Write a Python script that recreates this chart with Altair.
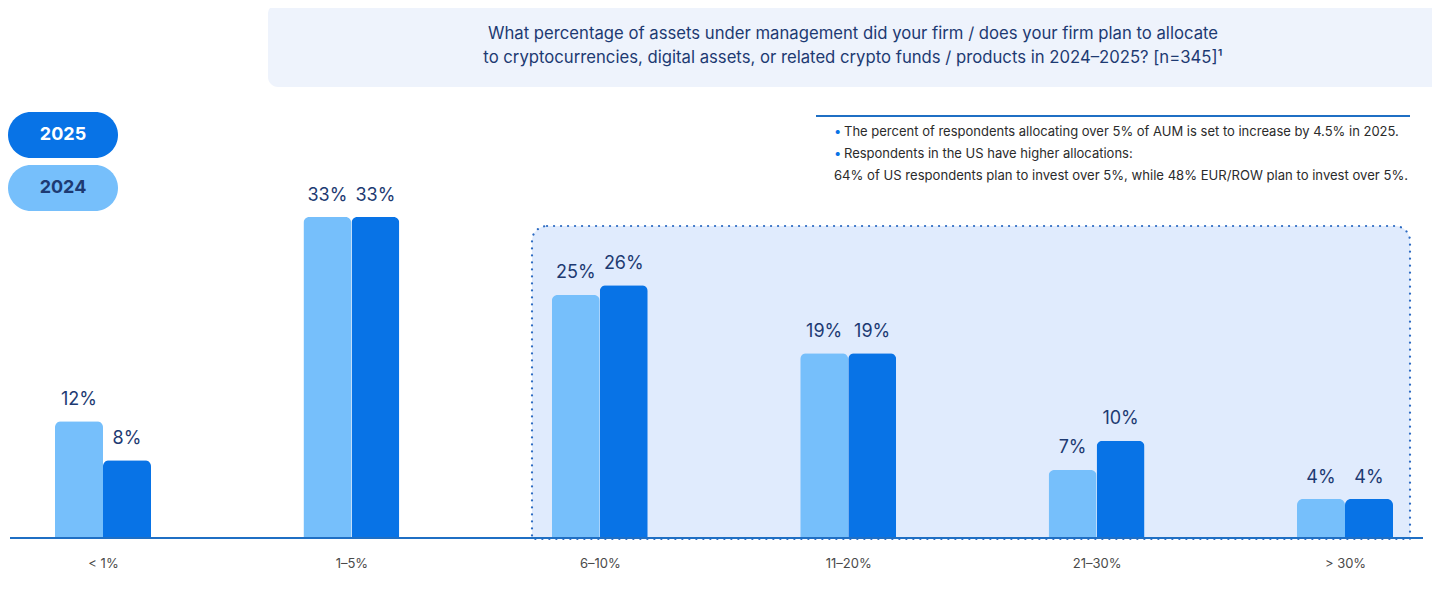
import altair as alt
import pandas as pd

# ---- data ----
categories = ["< 1%", "1–5%", "6–10%", "11–20%", "21–30%", "> 30%"]
values_2024 = [12, 33, 25, 19, 7, 4]
values_2025 = [8, 33, 26, 19, 10, 4]
legend_years = ["2025", "2024"]
title_lines = [
    "What percentage of assets under management did your firm / does your firm plan to allocate",
    "to cryptocurrencies, digital assets, or related crypto funds / products in 2024–2025? [n=345]¹",
]
note_bullets = [
    "The percent of respondents allocating over 5% of AUM is set to increase by 4.5% in 2025.",
    "Respondents in the US have higher allocations:",
]
note_extra = "64% of US respondents plan to invest over 5%, while 48% EUR/ROW plan to invest over 5%."

# ---- styling ----
W, H = 1424, 577
NAVY = "#1d3a72"
LIGHT = "#76bffb"
DARK = "#0873e6"
LINE = "#1f6fc4"
FONT = "Inter"

rows = []
for i, c in enumerate(categories):
    rows.append({"idx": i, "cat": c, "year": "2024", "value": values_2024[i]})
    rows.append({"idx": i, "cat": c, "year": "2025", "value": values_2025[i]})
df = pd.DataFrame(rows)
df["label"] = df["value"].astype(str) + "%"

x_scale = alt.Scale(domain=[0, len(categories) - 1], range=[95, 1337], nice=False, zero=False, padding=0)
y_scale = alt.Scale(domain=[0, 54.5], range=[530, 0], nice=False, padding=0)

label_expr = "[" + ",".join("'" + c + "'" for c in categories) + "][datum.value]"
x_axis = alt.Axis(values=list(range(len(categories))), labelExpr=label_expr, ticks=False, grid=False,
                  domain=False, labelFontSize=13, labelColor="#4a4a4a",
                  labelFont=FONT, labelPadding=19, offset=-47, title=None, labelFlush=False)

one = pd.DataFrame({"a": [0]})

title_box = alt.Chart(one).mark_rect(color="#eef3fc", cornerRadius=10).encode(
    x=alt.value(260), x2=alt.value(1440), y=alt.value(-4), y2=alt.value(79))
title_text = alt.Chart(one).mark_text(text=title_lines, font=FONT, fontSize=16.7, color=NAVY,
                                      baseline="top", align="center", lineHeight=24).encode(
    x=alt.value(845), y=alt.value(18))

hl_box = alt.Chart(one).mark_rect(fill="#e0ebfd", stroke="#2d6bc2", strokeWidth=2.2,
                                  strokeDash=[0.1, 6.9], strokeCap="round",
                                  cornerRadiusTopLeft=15, cornerRadiusTopRight=15).encode(
    x=alt.value(524), x2=alt.value(1402), y=alt.value(218), y2=alt.value(531))

layers = [title_box, title_text, hl_box]
offs = {"2024": -24, "2025": 24}
cols = {"2024": LIGHT, "2025": DARK}
for yr in ["2024", "2025"]:
    base = alt.Chart(df).transform_filter(alt.datum.year == yr)
    layers.append(base.mark_bar(width=48, xOffset=offs[yr], color=cols[yr],
                                cornerRadiusTopLeft=6, cornerRadiusTopRight=6).encode(
        x=alt.X("idx:Q", scale=x_scale, axis=x_axis),
        y=alt.Y("value:Q", scale=y_scale, axis=None)))
    layers.append(base.mark_text(xOffset=offs[yr], dy=-21.5, fontSize=18, font=FONT, color=NAVY,
                                 baseline="middle").encode(
        x=alt.X("idx:Q", scale=x_scale, axis=x_axis),
        y=alt.Y("value:Q", scale=y_scale, axis=None),
        text="label:N"))

# baseline
layers.append(alt.Chart(one).mark_rule(color=LINE, strokeWidth=2).encode(
    x=alt.value(2), x2=alt.value(1415), y=alt.value(530)))

# legend pills
pill_fill = {"2025": DARK, "2024": LIGHT}
pill_text = {"2025": "white", "2024": NAVY}
for k, yr in enumerate(legend_years):
    top = 104 + 53 * k
    layers.append(alt.Chart(one).mark_rect(color=pill_fill[yr], cornerRadius=23).encode(
        x=alt.value(0), x2=alt.value(110), y=alt.value(top), y2=alt.value(top + 46)))
    layers.append(alt.Chart(one).mark_text(text=yr, font=FONT, fontSize=18, fontWeight="bold",
                                           color=pill_text[yr], baseline="middle").encode(
        x=alt.value(55), y=alt.value(top + 23)))

# annotation
layers.append(alt.Chart(one).mark_rule(color=LINE, strokeWidth=2).encode(
    x=alt.value(808), x2=alt.value(1402), y=alt.value(108)))
for k, t in enumerate(note_bullets):
    yy = 124 + 22 * k
    layers.append(alt.Chart(one).mark_text(text="•", font=FONT, fontSize=13, color=DARK,
                                           baseline="middle", align="left").encode(
        x=alt.value(826), y=alt.value(yy)))
    layers.append(alt.Chart(one).mark_text(text=t, font=FONT, fontSize=13, color="#2b2b2b",
                                           baseline="middle", align="left").encode(
        x=alt.value(836), y=alt.value(yy)))
layers.append(alt.Chart(one).mark_text(text=note_extra, font=FONT, fontSize=13.1, color="#2b2b2b",
                                       baseline="middle", align="left").encode(
    x=alt.value(826), y=alt.value(168)))

chart = alt.layer(*layers).properties(
    width=W, height=H, autosize=alt.AutoSizeParams(type="none"), padding=0
).configure_view(stroke=None)

chart.save("out.html", embed_options={"renderer": "svg", "actions": False})
